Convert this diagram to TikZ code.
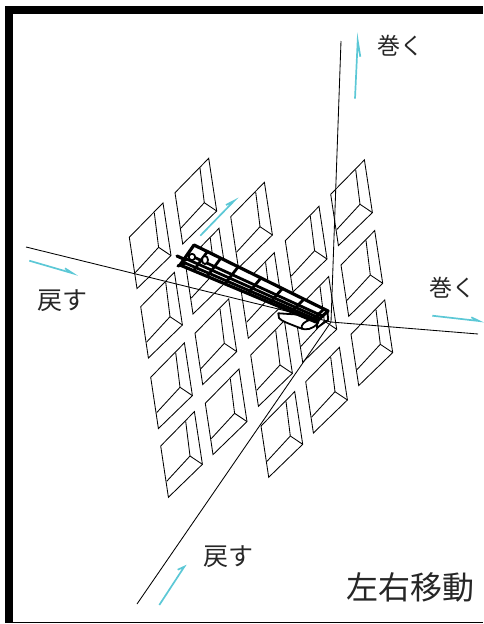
\documentclass[tikz,border=0pt]{standalone}
\usepackage{fontspec}
\usetikzlibrary{calc}
\newfontfamily\cjk{Noto Sans CJK JP}
\definecolor{arrowcyan}{HTML}{5CC8D6}
\tikzset{
  panelline/.style={line width=0.85pt,draw=black,line join=miter},
  axisline/.style={line width=0.85pt,draw=black},
  moveline/.style={line width=1.7pt,draw=arrowcyan,line join=miter,miter limit=20},
  labelwind/.style={inner sep=0pt,font=\cjk\fontsize{23}{23}\selectfont,text=black!85},
  labelback/.style={inner sep=0pt,font=\cjk\fontsize{25}{25}\selectfont,text=black!85},
  title/.style={inner sep=0pt,font=\cjk\fontsize{32}{32}\selectfont,text=black!85},
  railline/.style={line width=3.2pt,draw=black,line join=round,line cap=round},
  railbar/.style={line width=2.8pt,draw=black,line cap=round},
  railthin/.style={line width=1.8pt,draw=black,line join=round,line cap=round}
}
\begin{document}
\begin{tikzpicture}[x=1pt,y=-1pt]
\useasboundingbox (0,0) rectangle (483,624);
% frame
\fill[black] (5,6) rectangle (483,14);
\fill[black] (5,6) rectangle (13,623);
\fill[black] (5,621.5) rectangle (483,623);
% window panels
\foreach \px/\py in {129.3/237.3,175/192.7,230.7/216.7,285.3/240.7,330.7/194.3,
  140.7/306.7,185.3/262.7,240.6/287,295/311,341/265,
  150.7/377.3,195/333.3,250.7/355,305.7/381.7,351/334.3,
  160.7/446,205.3/403.3,261/426}{
  \begin{scope}[shift={(\px,\py)}]
    \draw[panelline] (0,0) -- (33.7,-34.4) -- (41.7,18.3) -- (7.7,51.3) -- cycle;
    \draw[panelline] (25,-24.6) -- (29.3,10) -- (41.7,18.3);
    \draw[panelline] (29.3,10) -- (6,35.3);
  \end{scope}
}
% axes
\coordinate (O) at (331,322);
\coordinate (axL) at (26,247);
\coordinate (axR) at (478,334);
\coordinate (axU) at (341,41);
\coordinate (axD) at (137,604);
\draw[axisline] (axL) -- (O);
\draw[axisline] (axR) -- (O);
\draw[axisline] (axU) -- (O);
\draw[axisline] (axD) -- (O);
% rail
\coordinate (A) at (194,245);
\coordinate (B) at (328,311);
\coordinate (C) at (180,265);
\coordinate (D) at (316,322);
% cylinder under the end of the rail
\filldraw[fill=white,railthin] (278.3,313.3) -- (279,318) .. controls (281,321) and (290,324) .. (300,328)
  .. controls (306,331) and (313,329) .. (318,323) -- (320,316) -- cycle;
\draw[railthin] (311,319.5) .. controls (305,321) and (300,325) .. (302,329);
\draw[railthin] (316.7,328) -- (328,320) -- (327.7,312);
\draw[railthin] (316.7,320) -- (316.7,328);
% rail body
\filldraw[fill=white,railline] (A) -- (B) -- (D) -- (C) -- cycle;
\foreach \s in {0.46,0.66,0.84}{
  \draw[railbar] ($(A)!\s!(C)$) -- ($(B)!\s!(D)$);
}
\foreach \t in {0.1,0.2,0.33,0.5,0.66,0.82,0.97}{
  \draw[railbar] ($(A)!\t!(B)$) -- ($(C)!\t!(D)$);
}
% rail left fittings
\draw[railline] (177,256) -- (186,260) (178,266) -- (185,263);
\filldraw[fill=white,railthin] (192,257) circle (3.2);
\filldraw[fill=white,railthin] (205,260) ellipse (3 and 4);
% motion arrows
\draw[moveline] (355,98.7) -- (357.7,40.7) -- (360.3,56.7);
\draw[moveline] (200.3,235.7) -- (234.3,200.7) -- (226,205);
\draw[moveline] (29.3,260.7) -- (72.7,273.3) -- (65,268.3);
\draw[moveline] (432.3,315.7) -- (479,321) -- (471.3,317.3);
\draw[moveline] (159.3,605) -- (184.3,566.7) -- (177.7,569.7);
% labels
\node[labelwind] (tUp) at (400,46) {巻く};
\node[labelwind] (tRight) at (452,288) {巻く};
\node[labelback] (tLeft) at (62,301) {戻す};
\node[labelback] (tDown) at (228,557) {戻す};
\node[title] (tTitle) at (410,587) {左右移動};
\end{tikzpicture}
\end{document}
